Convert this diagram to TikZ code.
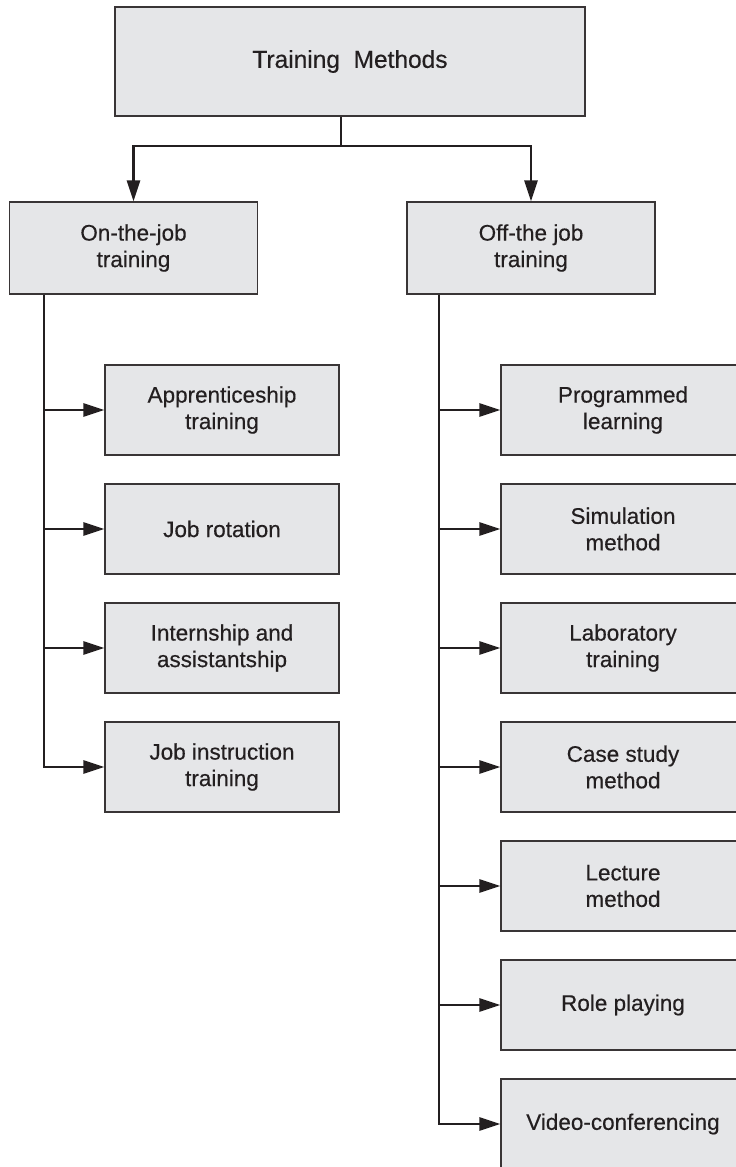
\documentclass[tikz,border=0pt]{standalone}
\usepackage{fontspec}
\setmainfont{Liberation Sans}
\newfontfamily\labelfont[FakeBold=0.4]{Liberation Sans}
\usetikzlibrary{arrows.meta}
\definecolor{boxgray}{HTML}{E5E6E8}
\definecolor{ink}{HTML}{231F20}
\begin{document}
\begin{tikzpicture}[x=1pt,y=-1pt,
  box/.style={draw=ink!90, line width=1.2pt, fill=boxgray, inner sep=0pt,
    align=center, text=ink, font=\labelfont\fontsize{22.5}{26.5}\selectfont},
  toplevel/.style={box, minimum width=470pt, minimum height=109pt,
    font=\labelfont\fontsize{24.5}{28}\selectfont},
  midlevel/.style={box, minimum width=248pt, minimum height=92pt},
  leftleaf/.style={box, minimum width=234pt, minimum height=90pt},
  rightleaf/.style={box, minimum width=244pt, minimum height=90pt},
  link/.style={draw=ink, line width=2.7pt},
  tip/.style={-{Triangle[length=21pt,width=13pt]}}
]
\useasboundingbox (0,0) rectangle (736,1167);
\clip (0,0) rectangle (736,1167);

% root and second level
\node[toplevel] (root) at (350,61.5) {Training\ \ Methods};
\node[midlevel] (onjob) at (133.5,248) {On-the-job\\training};
\node[midlevel] (offjob) at (531,248) {Off-the job\\training};

% on-the-job methods
\node[leftleaf] (a1) at (222,410) {Apprenticeship\\training};
\node[leftleaf] (a2) at (222,529) {Job rotation};
\node[leftleaf] (a3) at (222,648) {Internship and\\assistantship};
\node[leftleaf] (a4) at (222,767) {Job instruction\\training};

% off-the-job methods
\node[rightleaf] (b1) at (623,410) {Programmed\\learning};
\node[rightleaf] (b2) at (623,529) {Simulation\\method};
\node[rightleaf] (b3) at (623,648) {Laboratory\\training};
\node[rightleaf] (b4) at (623,767) {Case study\\method};
\node[rightleaf] (b5) at (623,886) {Lecture\\method};
\node[rightleaf] (b6) at (623,1005) {Role playing};
\node[rightleaf] (b7) at (623,1124) {Video-conferencing};

% connector guide positions
\coordinate (stem) at (341,0);
\coordinate (split) at (341,146);
\coordinate (ltrunk) at (44,0);
\coordinate (rtrunk) at (439,0);

% root to second level
\draw[link] (root.south -| stem) -- (split);
\draw[link,tip] (split) -| (onjob.north);
\draw[link,tip] (split) -| (offjob.north);

% left trunk and branches
\draw[link,tip] (onjob.south -| ltrunk) |- (a4.west);
\foreach \n in {a1,a2,a3}
  \draw[link,tip] (\n.west -| ltrunk) -- (\n.west);

% right trunk and branches
\draw[link,tip] (offjob.south -| rtrunk) |- (b7.west);
\foreach \n in {b1,b2,b3,b4,b5,b6}
  \draw[link,tip] (\n.west -| rtrunk) -- (\n.west);
\end{tikzpicture}
\end{document}
